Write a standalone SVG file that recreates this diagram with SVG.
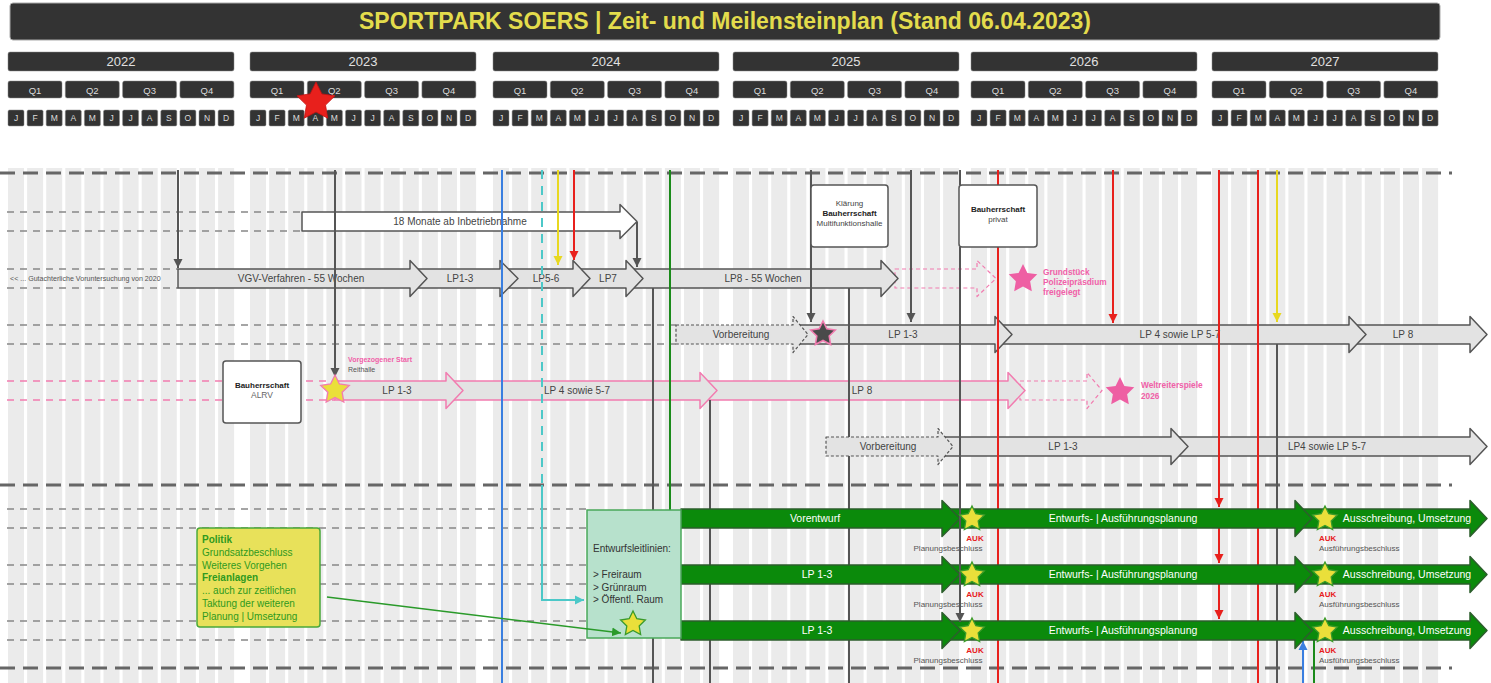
<svg xmlns="http://www.w3.org/2000/svg" xmlns:xlink="http://www.w3.org/1999/xlink" width="1491" height="683" viewBox="0 0 1491 683">
<style>
text{font-family:"Liberation Sans",Arial,sans-serif}
.hb{fill:#333;stroke:#888;stroke-width:0.5}
.yt{font-size:13px;fill:#e0e0e0;text-anchor:middle}
.qt{font-size:9.5px;fill:#ddd;text-anchor:middle}
.mt{font-size:8.5px;fill:#ddd;text-anchor:middle}
.st{fill:#ebebeb}
.thick{stroke:#666;stroke-width:3;stroke-dasharray:15 8;fill:none}
.thin{stroke:#888;stroke-width:1.3;stroke-dasharray:7 6;fill:none}
.thinp{stroke:#f27cb0;stroke-width:1.3;stroke-dasharray:7 6;fill:none}
.ar{fill:#e3e3e3;stroke:#555;stroke-width:1.5;stroke-linejoin:round}
.arw{fill:#fff;stroke:#555;stroke-width:1.5;stroke-linejoin:round}
.arp{fill:#e3e3e3;stroke:#f27cb0;stroke-width:1.5;stroke-linejoin:round}
.ard{fill:#e3e3e3;stroke:#555;stroke-width:1.2;stroke-dasharray:3 2;stroke-linejoin:round}
.arpd{fill:none;stroke:#f27cb0;stroke-width:1.2;stroke-dasharray:4 3;stroke-linejoin:round}
.arg{fill:#0b8a0b;stroke:#2d5e2d;stroke-width:1.5;stroke-linejoin:round}
.lb{font-size:10px;fill:#444;text-anchor:middle}
.glb{font-size:10.5px;fill:#fff;text-anchor:middle}
.box{fill:#fff;stroke:#555;stroke-width:1.5}
.bt{font-size:8px;fill:#444;text-anchor:middle}
.bb{font-size:8px;fill:#222;font-weight:bold;text-anchor:middle}
.pk{font-size:8.3px;fill:#f060a8;font-weight:bold}
.auk{font-size:8px;fill:#e8201c;font-weight:bold}
.sm{font-size:8px;fill:#555}
.vg{stroke:#555;stroke-width:2;fill:none}
.vr{stroke:#e8201c;stroke-width:2;fill:none}
.vb{stroke:#3a7fe0;stroke-width:2;fill:none}
.vy{stroke:#e8d820;stroke-width:2;fill:none}
.vc{stroke:#4cc8c8;stroke-width:2;fill:none}
.vgr{stroke:#1a8a1a;stroke-width:2;fill:none}
.sy{fill:#eadf3a;stroke:#3a9a2a;stroke-width:1}
.gt{font-size:10px;fill:#2f9a20}
</style>
<defs>
<path id="star" d="M0,-10 L2.94,-4.05 L9.51,-3.09 L4.76,1.55 L5.88,8.09 L0,5 L-5.88,8.09 L-4.76,1.55 L-9.51,-3.09 L-2.94,-4.05 Z"/>
<marker id="mg" viewBox="0 0 10 10" refX="10" refY="5" markerWidth="9" markerHeight="10" orient="auto" markerUnits="userSpaceOnUse"><path d="M0,0 L10,5 L0,10 z" fill="#555"/></marker>
<marker id="mr" viewBox="0 0 10 10" refX="10" refY="5" markerWidth="9" markerHeight="10" orient="auto" markerUnits="userSpaceOnUse"><path d="M0,0 L10,5 L0,10 z" fill="#e8201c"/></marker>
<marker id="my" viewBox="0 0 10 10" refX="10" refY="5" markerWidth="9" markerHeight="10" orient="auto" markerUnits="userSpaceOnUse"><path d="M0,0 L10,5 L0,10 z" fill="#e8d820"/></marker>
<marker id="mb" viewBox="0 0 10 10" refX="10" refY="5" markerWidth="9" markerHeight="10" orient="auto" markerUnits="userSpaceOnUse"><path d="M0,0 L10,5 L0,10 z" fill="#3a7fe0"/></marker>
<marker id="mc" viewBox="0 0 10 10" refX="10" refY="5" markerWidth="9" markerHeight="10" orient="auto" markerUnits="userSpaceOnUse"><path d="M0,0 L10,5 L0,10 z" fill="#4cc8c8"/></marker>
<marker id="mgr" viewBox="0 0 10 10" refX="10" refY="5" markerWidth="9" markerHeight="10" orient="auto" markerUnits="userSpaceOnUse"><path d="M0,0 L10,5 L0,10 z" fill="#2a9a2a"/></marker>
<g id="qm">
<rect class="hb" x="0" y="52" width="226" height="19" rx="2"/>
<rect class="hb" x="0" y="81" width="54" height="17" rx="2"/>
<rect class="hb" x="57.3" y="81" width="54" height="17" rx="2"/>
<rect class="hb" x="114.6" y="81" width="54" height="17" rx="2"/>
<rect class="hb" x="171.9" y="81" width="54" height="17" rx="2"/>
<text class="qt" x="27" y="93.5">Q1</text>
<text class="qt" x="84.3" y="93.5">Q2</text>
<text class="qt" x="141.6" y="93.5">Q3</text>
<text class="qt" x="198.9" y="93.5">Q4</text>
<rect class="hb" x="0" y="110" width="16" height="16" rx="1.5"/>
<rect class="hb" x="19.1" y="110" width="16" height="16" rx="1.5"/>
<rect class="hb" x="38.2" y="110" width="16" height="16" rx="1.5"/>
<rect class="hb" x="57.3" y="110" width="16" height="16" rx="1.5"/>
<rect class="hb" x="76.4" y="110" width="16" height="16" rx="1.5"/>
<rect class="hb" x="95.5" y="110" width="16" height="16" rx="1.5"/>
<rect class="hb" x="114.6" y="110" width="16" height="16" rx="1.5"/>
<rect class="hb" x="133.7" y="110" width="16" height="16" rx="1.5"/>
<rect class="hb" x="152.8" y="110" width="16" height="16" rx="1.5"/>
<rect class="hb" x="171.9" y="110" width="16" height="16" rx="1.5"/>
<rect class="hb" x="191" y="110" width="16" height="16" rx="1.5"/>
<rect class="hb" x="210.1" y="110" width="16" height="16" rx="1.5"/>
<text class="mt" x="8" y="121">J</text>
<text class="mt" x="27.1" y="121">F</text>
<text class="mt" x="46.2" y="121">M</text>
<text class="mt" x="65.3" y="121">A</text>
<text class="mt" x="84.4" y="121">M</text>
<text class="mt" x="103.5" y="121">J</text>
<text class="mt" x="122.6" y="121">J</text>
<text class="mt" x="141.7" y="121">A</text>
<text class="mt" x="160.8" y="121">S</text>
<text class="mt" x="179.9" y="121">O</text>
<text class="mt" x="199" y="121">N</text>
<text class="mt" x="218.1" y="121">D</text>
</g>
<g id="stripes">
<rect class="st" x="0" y="168" width="16" height="515"/>
<rect class="st" x="19.1" y="168" width="16" height="515"/>
<rect class="st" x="38.2" y="168" width="16" height="515"/>
<rect class="st" x="57.3" y="168" width="16" height="515"/>
<rect class="st" x="76.4" y="168" width="16" height="515"/>
<rect class="st" x="95.5" y="168" width="16" height="515"/>
<rect class="st" x="114.6" y="168" width="16" height="515"/>
<rect class="st" x="133.7" y="168" width="16" height="515"/>
<rect class="st" x="152.8" y="168" width="16" height="515"/>
<rect class="st" x="171.9" y="168" width="16" height="515"/>
<rect class="st" x="191" y="168" width="16" height="515"/>
<rect class="st" x="210.1" y="168" width="16" height="515"/>
</g>
<g id="grow">
<polygon class="arg" points="1295,-9.5 1470,-9.5 1470,-18 1487,0 1470,18 1470,9.5 1295,9.5"/>
<polygon class="arg" points="942,-9.5 1295,-9.5 1295,-18 1312,0 1295,18 1295,9.5 942,9.5"/>
<polygon class="arg" points="681,-9.5 942,-9.5 942,-18 960,0 942,18 942,9.5 681,9.5"/>
<text class="glb" x="1123" y="3.5">Entwurfs- | Ausführungsplanung</text>
<text class="glb" x="1407" y="3.5">Ausschreibung, Umsetzung</text>
<text class="auk" x="975" y="22" text-anchor="middle">AUK</text>
<text class="sm" x="948" y="32" text-anchor="middle">Planungsbeschluss</text>
<text class="auk" x="1319" y="22">AUK</text>
<text class="sm" x="1319" y="32">Ausführungsbeschluss</text>
</g>
</defs>

<g id="header">
<rect x="10" y="3" width="1430" height="37" rx="3" fill="#333" stroke="#aaa" stroke-width="1"/>
<text x="725" y="29" font-size="23" font-weight="bold" fill="#e3dc4c" text-anchor="middle">SPORTPARK SOERS | Zeit- und Meilensteinplan (Stand 06.04.2023)</text>
<use href="#qm" x="8"/>
<use href="#qm" x="250"/>
<use href="#qm" x="493"/>
<use href="#qm" x="733"/>
<use href="#qm" x="971"/>
<use href="#qm" x="1212"/>
<text class="yt" x="121" y="66">2022</text>
<text class="yt" x="363" y="66">2023</text>
<text class="yt" x="606" y="66">2024</text>
<text class="yt" x="846" y="66">2025</text>
<text class="yt" x="1084" y="66">2026</text>
<text class="yt" x="1325" y="66">2027</text>
</g>
<g id="today-star"><use href="#star" transform="translate(316,102) scale(2)" fill="#e8201c" stroke="#c41010" stroke-width="0.4"/></g>

<g id="grid">
<use href="#stripes" x="8"/>
<use href="#stripes" x="250"/>
<use href="#stripes" x="493"/>
<use href="#stripes" x="733"/>
<use href="#stripes" x="971"/>
<use href="#stripes" x="1212"/>
<path class="thick" d="M0,173 H1452 M0,485 H1452 M0,668 H1452"/>
<path class="thin" d="M7,212 H302 M7,231 H302 M7,269 H178 M7,288 H178 M7,325 H676 M7,344 H676 M7,509 H587 M7,528 H587 M7,565 H587 M7,584 H587 M7,621 H587 M7,640 H587"/>
<path class="thinp" d="M7,381 H335 M7,400 H335"/>
<text x="10" y="281" font-size="7.1" fill="#555">&lt;&lt; ... Gutachterliche Voruntersuchung von 2020</text>
</g>

<g id="bar-18monate">
<polygon class="arw" points="302,212 620,212 620,204.5 637,221.5 620,238.5 620,231 302,231"/>
<text class="lb" x="460" y="225">18 Monate ab Inbetriebnahme</text>
</g>
<g id="row-vgv">
<polygon class="arpd" points="895,269 977,269 977,260.5 996,278.5 977,296.5 977,288 895,288"/>
<polygon class="ar" points="626,269 881,269 881,260.5 898,278.5 881,296.5 881,288 626,288"/>
<polygon class="ar" points="573,269 626,269 626,260.5 643,278.5 626,296.5 626,288 573,288"/>
<polygon class="ar" points="500,269 573,269 573,260.5 590,278.5 573,296.5 573,288 500,288"/>
<polygon class="ar" points="410,269 500,269 500,260.5 518,278.5 500,296.5 500,288 410,288"/>
<polygon class="ar" points="178,269 410,269 410,260.5 427,278.5 410,296.5 410,288 178,288"/>
<text class="lb" x="301" y="282">VGV-Verfahren - 55 Wochen</text>
<text class="lb" x="460" y="282">LP1-3</text>
<text class="lb" x="546" y="282">LP5-6</text>
<text class="lb" x="608" y="282">LP7</text>
<text class="lb" x="763" y="282">LP8 - 55 Wochen</text>
</g>
<g id="row-multi">
<polygon class="ar" points="1349,325 1470,325 1470,316.5 1487,334.5 1470,352.5 1470,344 1349,344"/>
<polygon class="ar" points="995,325 1349,325 1349,316.5 1366,334.5 1349,352.5 1349,344 995,344"/>
<polygon class="ar" points="793,325 995,325 995,316.5 1012,334.5 995,352.5 995,344 793,344"/>
<polygon class="ard" points="676,325 793,325 793,316.5 808,334.5 793,352.5 793,344 676,344"/>
<text class="lb" x="741" y="338">Vorbereitung</text>
<text class="lb" x="903" y="338">LP 1-3</text>
<text class="lb" x="1180" y="338">LP 4 sowie LP 5-7</text>
<text class="lb" x="1403" y="338">LP 8</text>
</g>
<g id="row-reithalle">
<polygon class="arpd" points="1020,381 1087,381 1087,372.5 1102,390.5 1087,408.5 1087,400 1020,400"/>
<polygon class="arp" points="700,381 1008,381 1008,372.5 1025,390.5 1008,408.5 1008,400 700,400"/>
<polygon class="arp" points="446,381 700,381 700,372.5 717,390.5 700,408.5 700,400 446,400"/>
<polygon class="arp" points="335,381 446,381 446,372.5 463,390.5 446,408.5 446,400 335,400"/>
<text class="lb" x="397" y="394">LP 1-3</text>
<text class="lb" x="577" y="394">LP 4 sowie 5-7</text>
<text class="lb" x="862" y="394">LP 8</text>
</g>
<g id="row-privat">
<polygon class="ar" points="1171,437 1470,437 1470,428.5 1487,446.5 1470,464.5 1470,456 1171,456"/>
<polygon class="ar" points="938,437 1171,437 1171,428.5 1188,446.5 1171,464.5 1171,456 938,456"/>
<text class="lb" x="1063" y="450">LP 1-3</text>
<text class="lb" x="1327" y="450">LP4 sowie LP 5-7</text>
</g>

<g id="connectors">
<path class="vb" d="M502,170 V683"/>
<path class="vc" d="M542,170 V485" stroke-dasharray="9 7"/>
<path class="vc" d="M542,485 V600 H584" marker-end="url(#mc)"/>
<path class="vgr" d="M670,170 V510"/>
<path class="vg" d="M653,288 V683"/>
<path class="vg" d="M710,400 V683"/>
<path class="vg" d="M849,288 V683"/>
<path class="vg" d="M1277,344 V683"/>
<path class="vr" d="M998,170 V683"/>
<path class="vr" d="M1258,170 V683"/>
<path class="vg" d="M178,170 V268" marker-end="url(#mg)"/>
<path class="vg" d="M335,170 V377" marker-end="url(#mg)"/>
<path class="vg" d="M637,222 V267" marker-end="url(#mg)"/>
<path class="vy" d="M558,170 V265" marker-end="url(#my)"/>
<path class="vr" d="M574,170 V260" marker-end="url(#mr)"/>
<path class="vg" d="M811,170 V322" marker-end="url(#mg)"/>
<path class="vg" d="M911,170 V322" marker-end="url(#mg)"/>
<path class="vr" d="M1113,170 V323" marker-end="url(#mr)"/>
<path class="vy" d="M1277,170 V322" marker-end="url(#my)"/>
<path class="vr" d="M1219,170 V507" marker-end="url(#mr)"/>
<path class="vr" d="M1219,528 V563" marker-end="url(#mr)"/>
<path class="vr" d="M1219,584 V619" marker-end="url(#mr)"/>
<path class="vb" d="M1303,683 V641" marker-end="url(#mb)"/>
<path class="vgr" d="M1314,640 V683"/>
</g>

<g id="vorbereitung-2">
<polygon class="ard" points="826,437 938,437 938,428.5 953,446.5 938,464.5 938,456 826,456"/>
<text class="lb" x="888" y="450">Vorbereitung</text>
</g>

<g id="box-klaerung">
<rect class="box" x="811" y="185" width="77" height="62" rx="3"/>
<text class="bt" x="849.5" y="206">Klärung</text>
<text class="bb" x="849.5" y="216">Bauherrschaft</text>
<text class="bt" x="849.5" y="226">Multifunktionshalle</text>
</g>
<g id="box-privat">
<rect class="box" x="959" y="185" width="78" height="62" rx="3"/>
<text class="bb" x="998" y="212">Bauherrschaft</text>
<text class="bt" x="998" y="222">privat</text>
</g>
<g id="box-alrv">
<rect class="box" x="223" y="361" width="78" height="62" rx="3"/>
<text class="bb" x="262" y="388">Bauherrschaft</text>
<text class="bt" x="262" y="398" style="font-size:8.5px;fill:#666">ALRV</text>
</g>

<g id="milestones-top">
<use href="#star" transform="translate(823,334) scale(1.3)" fill="#4a4a4a" stroke="#f27cb0" stroke-width="1.2"/>
<use href="#star" transform="translate(335,390) scale(1.5)" fill="#eadf3a" stroke="#f27cb0" stroke-width="0.9"/>
<text class="pk" x="348" y="362" style="font-size:7px">Vorgezogener Start</text>
<text class="sm" x="348" y="372" style="font-size:7px">Reithalle</text>
<use href="#star" transform="translate(1023,279) scale(1.5)" fill="#ee5fa3"/>
<text class="pk" x="1043" y="275">Grundstück</text>
<text class="pk" x="1043" y="285">Polizeipräsdium</text>
<text class="pk" x="1043" y="295">freigelegt</text>
<use href="#star" transform="translate(1120,392) scale(1.5)" fill="#ee5fa3"/>
<text class="pk" x="1141" y="388">Weltreiterspiele</text>
<text class="pk" x="1141" y="399">2026</text>
</g>

<g id="green-row-1">
<use href="#grow" transform="translate(0,518.5)"/>
<text class="glb" x="815" y="522">Vorentwurf</text>
</g>
<g id="green-row-2">
<use href="#grow" transform="translate(0,574.5)"/>
<text class="glb" x="817" y="578">LP 1-3</text>
</g>
<g id="green-row-3">
<use href="#grow" transform="translate(0,630.5)"/>
<text class="glb" x="817" y="634">LP 1-3</text>
</g>

<g id="box-entwurf">
<rect x="587" y="510" width="94" height="128" fill="#b7e1cc" stroke="#4aa85a" stroke-width="1.5"/>
<text x="593" y="552" font-size="10" fill="#333">Entwurfsleitlinien:</text>
<text x="593" y="578" font-size="10" fill="#333">&gt; Freiraum</text>
<text x="593" y="590.5" font-size="10" fill="#333">&gt; Grünraum</text>
<text x="593" y="603" font-size="10" fill="#333">&gt; Öffentl. Raum</text>
<use href="#star" transform="translate(633,624) scale(1.3)" class="sy"/>
</g>

<g id="box-politik">
<rect x="197" y="528" width="123" height="99" rx="3" fill="#e8e15a" stroke="#4aa83a" stroke-width="1.5"/>
<text class="gt" x="202" y="543" font-weight="bold">Politik</text>
<text class="gt" x="202" y="556">Grundsatzbeschluss</text>
<text class="gt" x="202" y="569">Weiteres Vorgehen</text>
<text class="gt" x="202" y="581" font-weight="bold">Freianlagen</text>
<text class="gt" x="202" y="594">... auch zur zeitlichen</text>
<text class="gt" x="202" y="607">Taktung der weiteren</text>
<text class="gt" x="202" y="620">Planung | Umsetzung</text>
</g>

<g id="connectors-top">
<path d="M327,597 L621,633" stroke="#2a9a2a" stroke-width="1.5" fill="none" marker-end="url(#mgr)"/>
<path class="vg" d="M960,170 V185 M960,247 V622" marker-end="url(#mg)"/>
</g>

<g id="milestones-green">
<use href="#star" transform="translate(972,519) scale(1.3)" class="sy"/>
<use href="#star" transform="translate(1325,519) scale(1.3)" class="sy"/>
<use href="#star" transform="translate(972,575) scale(1.3)" class="sy"/>
<use href="#star" transform="translate(1325,575) scale(1.3)" class="sy"/>
<use href="#star" transform="translate(972,631) scale(1.3)" class="sy"/>
<use href="#star" transform="translate(1325,631) scale(1.3)" class="sy"/>
</g>
</svg>
